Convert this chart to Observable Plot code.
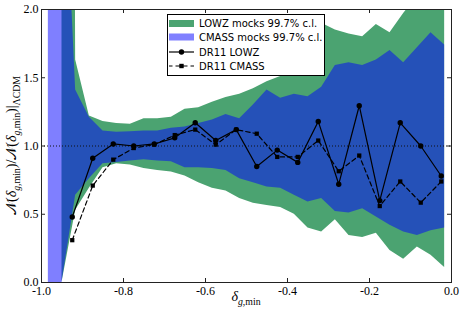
<!DOCTYPE html>
<html><head><meta charset="utf-8">
<script src="https://cdn.jsdelivr.net/npm/d3@7"></script>
<script src="https://cdn.jsdelivr.net/npm/@observablehq/plot@0.6"></script>
<style>
body{margin:0;background:#fff;}
#wrap{position:relative;width:463px;height:318px;}
</style></head><body><div id="wrap"></div>
<script>
// Mock bands (99.7% c.l.) sampled on their own x grid
const bandX = [-0.9833, -0.95, -0.9167, -0.8833, -0.85, -0.8167, -0.7833, -0.75, -0.7167, -0.6833, -0.65, -0.6167, -0.5833, -0.55, -0.5167, -0.4833, -0.45, -0.4167, -0.3833, -0.35, -0.3167, -0.2833, -0.25, -0.2167, -0.1833, -0.15, -0.1167, -0.0833, -0.05, -0.0167];
const lowzHi = [null, 30, 1.63, 1.22, 1.18, 1.165, 1.16, 1.20, 1.20, 1.21, 1.27, 1.28, 1.32, 1.355, 1.38, 1.42, 1.47, 1.51, 1.60, 1.75, 1.90, 1.85, 1.82, 1.80, 1.89, 1.83, 1.97, 2.1, 2.2, 2.1];
const lowzLo = [null, 0, 0.53, 0.69, 0.84, 0.87, 0.86, 0.835, 0.82, 0.81, 0.78, 0.73, 0.69, 0.67, 0.615, 0.58, 0.565, 0.55, 0.50, 0.40, 0.37, 0.46, 0.345, 0.33, 0.36, 0.235, 0.17, 0.26, 0.20, 0.11];
const cmassHi = [3.6, 3.6, 1.41, 1.21, 1.11, 1.10, 1.105, 1.11, 1.11, 1.13, 1.14, 1.165, 1.19, 1.23, 1.20, 1.30, 1.41, 1.35, 1.38, 1.36, 1.43, 1.59, 1.61, 1.59, 1.63, 1.70, 1.61, 1.72, 1.83, 1.74];
const cmassLo = [0, 0, 0.64, 0.76, 0.87, 0.88, 0.89, 0.90, 0.89, 0.885, 0.84, 0.84, 0.835, 0.82, 0.76, 0.73, 0.70, 0.69, 0.64, 0.59, 0.615, 0.52, 0.51, 0.54, 0.48, 0.42, 0.37, 0.345, 0.38, 0.40];

// DR11 measurements
const deltaX = [-0.925, -0.875, -0.825, -0.775, -0.725, -0.675, -0.625, -0.575, -0.525, -0.475, -0.425, -0.375, -0.325, -0.275, -0.225, -0.175, -0.125, -0.075, -0.025];
const dr11Lowz = [0.48, 0.91, 1.015, 1.00, 1.015, 1.06, 1.17, 1.04, 1.12, 0.85, 0.97, 0.88, 1.18, 0.72, 1.295, 0.60, 1.17, 1.00, 0.78];
const dr11Cmass = [0.31, 0.71, 0.90, 0.985, 1.01, 1.08, 1.12, 1.01, 1.12, 1.09, 0.92, 0.92, 1.04, 0.815, 0.93, 0.56, 0.74, 0.585, 0.74];

const xTicks = [-1.0, -0.8, -0.6, -0.4, -0.2, 0.0];
const yTicks = [0.0, 0.5, 1.0, 1.5, 2.0];
const legendLabels = ["LOWZ mocks 99.7% c.l.", "CMASS mocks 99.7% c.l.", "DR11 LOWZ", "DR11 CMASS"];

const GREEN = "#4ba371";
const band = bandX.map((x, i) => ({x, lzLo: lowzLo[i], lzHi: lowzHi[i], cmLo: cmassLo[i], cmHi: cmassHi[i]}));
const lowz = deltaX.map((x, i) => ({x, y: dr11Lowz[i]}));
const cmass = deltaX.map((x, i) => ({x, y: dr11Cmass[i]}));

const W = 463, H = 318, mL = 41, mR = 12, mT = 9, mB = 36;
const fw = W - mL - mR, fh = H - mT - mB;

const chart = Plot.plot({
  width: W, height: H,
  marginLeft: mL, marginRight: mR, marginTop: mT, marginBottom: mB,
  style: {fontFamily: "Liberation Serif", fontSize: "12px", background: "white", color: "black"},
  x: {domain: [-1, 0], ticks: xTicks, tickSize: 0, tickPadding: 4, tickFormat: d => d.toFixed(1), label: null},
  y: {domain: [0, 2], ticks: yTicks, tickSize: 0, tickPadding: 3, tickFormat: d => d.toFixed(1), label: null},
  marks: [
    Plot.areaY(band, {x: "x", y1: "lzLo", y2: "lzHi", fill: GREEN, clip: true}),
    Plot.areaY(band, {x: "x", y1: "cmLo", y2: "cmHi", fill: "#0000ff", fillOpacity: 0.5, clip: true}),
    Plot.ruleY([1], {stroke: "#111", strokeWidth: 1, strokeDasharray: "1,2"}),
    Plot.line(lowz, {x: "x", y: "y", stroke: "black", strokeWidth: 1.2}),
    Plot.dot(lowz, {x: "x", y: "y", r: 2.7, fill: "black", symbol: "circle"}),
    Plot.line(cmass, {x: "x", y: "y", stroke: "black", strokeWidth: 1.2, strokeDasharray: "4.5,3"}),
    Plot.dot(cmass, {x: "x", y: "y", r: 2.4, fill: "black", symbol: "square"}),
    Plot.tickX(xTicks, {x: d => d, stroke: "#222", insetTop: fh - 4}),
    Plot.tickX(xTicks, {x: d => d, stroke: "#222", insetBottom: fh - 4}),
    Plot.tickY(yTicks, {y: d => d, stroke: "#222", insetRight: fw - 4}),
    Plot.tickY(yTicks, {y: d => d, stroke: "#222", insetLeft: fw - 4}),
    Plot.frame({stroke: "#222", strokeWidth: 1})
  ]
});
document.getElementById("wrap").appendChild(chart);

const svg = d3.select(chart);

// helper for math-like rich text
function rich(g, segs, size) {
  const t = g.append("text").style("font-family", "Liberation Serif").style("font-size", size + "px").attr("fill", "black");
  let cur = 0;
  for (const s of segs) {
    const ts = t.append("tspan").text(s.t);
    const target = s.sub ? size * 0.3 : 0;
    if (target !== cur) { ts.attr("dy", target - cur); cur = target; }
    if (s.sub) ts.style("font-size", (size * 0.7) + "px");
    if (s.it) ts.style("font-style", "italic");
  }
  return t;
}

// y label
const yg = svg.append("g").attr("transform", `translate(16,${mT + fh / 2}) rotate(-90)`);
rich(yg, [
  {t: "𝒩("}, {t: "δ", it: true}, {t: "g", sub: true, it: true}, {t: ",min", sub: true},
  {t: ")/𝒩("}, {t: "δ", it: true}, {t: "g", sub: true, it: true}, {t: ",min", sub: true},
  {t: ")|"}, {t: "ΛCDM", sub: true}
], 14).attr("text-anchor", "middle");

// x label
const xg = svg.append("g").attr("transform", `translate(${mL + fw / 2},301)`);
rich(xg, [{t: "δ", it: true}, {t: "g", sub: true, it: true}, {t: ",min", sub: true}], 14).attr("text-anchor", "middle");

// legend
const lg = svg.append("g").style("font-family", "DejaVu Sans").style("font-size", "10px").attr("text-anchor", "start");
lg.append("rect").attr("x", 167.5).attr("y", 14.5).attr("width", 157).attr("height", 61).attr("fill", "white").attr("stroke", "black").attr("stroke-width", 1);
lg.append("rect").attr("x", 169).attr("y", 20).attr("width", 25).attr("height", 7).attr("fill", GREEN);
lg.append("rect").attr("x", 169).attr("y", 33.5).attr("width", 25).attr("height", 7).attr("fill", "#8080ff");
lg.append("line").attr("x1", 169).attr("x2", 194).attr("y1", 52).attr("y2", 52).attr("stroke", "black").attr("stroke-width", 1.2);
lg.append("circle").attr("cx", 181.5).attr("cy", 52).attr("r", 2.7).attr("fill", "black");
lg.append("line").attr("x1", 169).attr("x2", 194).attr("y1", 66).attr("y2", 66).attr("stroke", "black").attr("stroke-width", 1.2).attr("stroke-dasharray", "4.5,3").attr("stroke-dashoffset", 1);
lg.append("rect").attr("x", 179.3).attr("y", 63.8).attr("width", 4.4).attr("height", 4.4).attr("fill", "black");
const ly = [23.5, 37, 52, 66];
legendLabels.forEach((s, i) => {
  lg.append("text").attr("x", 199).attr("y", ly[i]).attr("dy", "0.36em").attr("text-anchor", "start").attr("fill", "black").text(s);
});
</script>
</body></html>
